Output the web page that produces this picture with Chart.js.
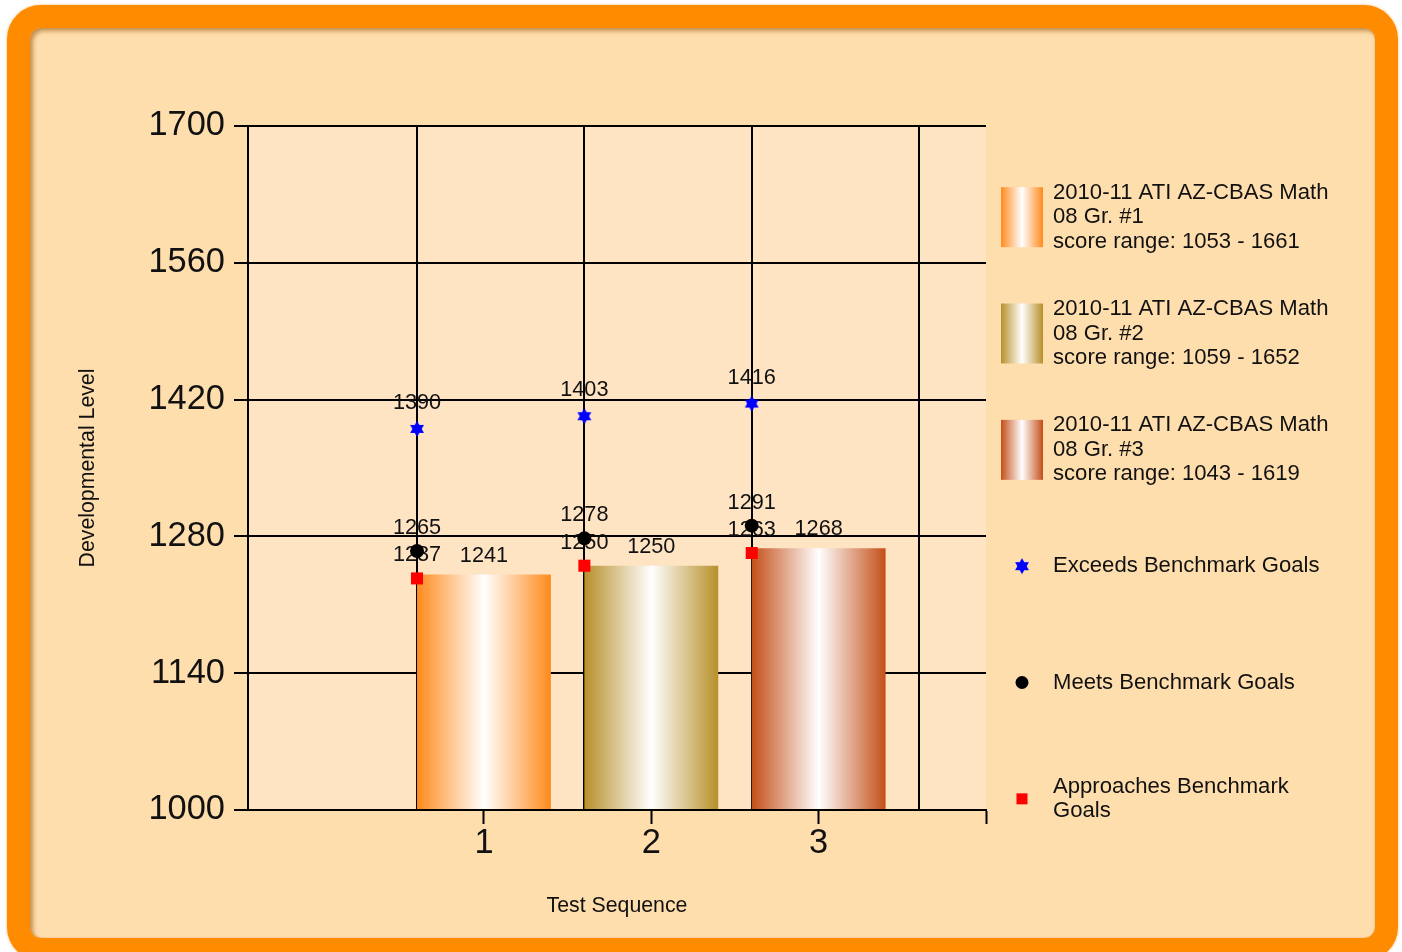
<!DOCTYPE html>
<html>
<head>
<meta charset="utf-8">
<title>Developmental Level by Test Sequence</title>
<script src="https://cdn.jsdelivr.net/npm/chart.js@4.4.1/dist/chart.umd.min.js"></script>
<style>
  html, body { margin: 0; padding: 0; width: 1402px; height: 952px; overflow: hidden; background: #ffffff; }
  #frame {
    position: absolute; left: 7px; top: 5px; width: 1391px; height: 956px;
    box-sizing: border-box; border: 23px solid #FF8C00; border-radius: 34px;
    background: #FFDEAD;
    box-shadow: inset 3px 3px 4px rgba(150, 80, 0, 0.55), inset 0 0 1px rgba(150, 80, 0, 0.7), 0 0 3px rgba(255, 150, 40, 0.6);
  }
  #wrap { position: absolute; left: 0; top: 0; width: 1402px; height: 952px; }
</style>
</head>
<body>
<div id="frame"></div>
<div id="wrap"><canvas id="chart"></canvas></div>
<script>
// ---- data ----
const categories = [1, 2, 3];
const xTickLabels = ['1', '2', '3'];
const testNames = [
  '2010-11 ATI AZ-CBAS Math 08 Gr. #1',
  '2010-11 ATI AZ-CBAS Math 08 Gr. #2',
  '2010-11 ATI AZ-CBAS Math 08 Gr. #3'
];
const scoreRangeMin = [1053, 1059, 1043];
const scoreRangeMax = [1661, 1652, 1619];
const testScores = [1241, 1250, 1268];
const exceedsBenchmark = [1390, 1403, 1416];
const meetsBenchmark = [1265, 1278, 1291];
const approachesBenchmark = [1237, 1250, 1263];
const benchmarkNames = ['Exceeds Benchmark Goals', 'Meets Benchmark Goals', 'Approaches Benchmark Goals'];
const yTickValues = [1000, 1140, 1280, 1420, 1560, 1700];

// ---- axis setup ----
const yMin = 1000, yMax = 1700;
const xMin = -0.41, xMax = 4;
const markerShift = -0.4;              // benchmark markers sit on the left edge of each column
const xMarkTicks = [1, 2, 3, 4];
const xGridTicks = [1, 2, 3, 4].map(v => v + markerShift);

// ---- styles ----
const barPalette = ['#FF8A1C', '#B8902A', '#C44F18'];
const plotFill = '#FFE4C4';
const inkColor = '#111111';

function fontAvailable(name) {
  const g = document.createElement('canvas').getContext('2d');
  const probe = 'Developmental 1700 Goals';
  g.font = '40px monospace';
  const a = g.measureText(probe).width;
  g.font = '40px "' + name + '", monospace';
  return g.measureText(probe).width !== a;
}
const NARROW = fontAvailable('Liberation Sans Narrow');
const FAMILY = NARROW ? '"Liberation Sans Narrow", "Liberation Sans", Arial, sans-serif'
                      : '"Liberation Sans", Arial, sans-serif';
const K = NARROW ? 1 : 0.82;
const fs = px => Math.round(px * K * 10) / 10;

function columnGradient(g, x0, x1, color) {
  const grad = g.createLinearGradient(x0, 0, x1, 0);
  grad.addColorStop(0, color);
  grad.addColorStop(0.5, '#FFFFFF');
  grad.addColorStop(1, color);
  return grad;
}

function makeHexagram(r, color) {
  const c = document.createElement('canvas');
  const s = Math.ceil(r * 2) + 2;
  c.width = c.height = s;
  const g = c.getContext('2d');
  g.fillStyle = color;
  g.translate(s / 2, s / 2);
  [0, Math.PI].forEach(rot => {
    g.beginPath();
    for (let k = 0; k < 3; k++) {
      const a = rot - Math.PI / 2 + k * 2 * Math.PI / 3;
      g.lineTo(r * Math.cos(a), r * Math.sin(a));
    }
    g.closePath();
    g.fill();
  });
  return c;
}
const starImage = makeHexagram(8, '#0000FF');

const BAR_PERCENT = 0.8;

function barDataset(i) {
  return {
    type: 'bar',
    label: testNames[i],
    legendNote: 'score range: ' + scoreRangeMin[i] + ' - ' + scoreRangeMax[i],
    data: [{ x: categories[i], y: testScores[i] }],
    xAxisID: 'x', yAxisID: 'y',
    grouped: false,
    base: yMin,
    barPercentage: BAR_PERCENT,
    categoryPercentage: 1,
    paletteColor: barPalette[i],
    backgroundColor: (c) => {
      const chart = c.chart, xs = chart.scales.x;
      if (!chart.chartArea || !xs) return barPalette[i];
      const unit = xs.getPixelForValue(1) - xs.getPixelForValue(0);
      const mid = xs.getPixelForValue(categories[i]);
      const half = unit * BAR_PERCENT / 2;
      return columnGradient(chart.ctx, mid - half, mid + half, barPalette[i]);
    },
    borderWidth: 0,
    labelGap: 13,
    order: 10
  };
}

function markerDataset(name, values, style, order, gap) {
  return Object.assign({
    type: 'scatter',
    label: name,
    data: categories.map((c, i) => ({ x: c + markerShift, y: values[i] })),
    xAxisID: 'x', yAxisID: 'y',
    borderWidth: 0,
    labelGap: gap,
    order: order
  }, style);
}

const datasets = [
  barDataset(0), barDataset(1), barDataset(2),
  markerDataset(benchmarkNames[0], exceedsBenchmark,
    { pointStyle: starImage, pointRadius: 8, backgroundColor: '#0000FF', borderColor: '#0000FF' }, 1, 20),
  markerDataset(benchmarkNames[1], meetsBenchmark,
    { pointStyle: 'circle', pointRadius: 7, backgroundColor: '#000000', borderColor: '#000000' }, 2, 17),
  markerDataset(benchmarkNames[2], approachesBenchmark,
    { pointStyle: 'rect', pointRadius: 8.5, backgroundColor: '#FF0000', borderColor: '#FF0000' }, 3, 17)
];

// plot area fill
const plotBackground = {
  id: 'plotBackground',
  beforeDraw(chart) {
    const a = chart.chartArea, g = chart.ctx;
    g.save();
    g.fillStyle = plotFill;
    g.fillRect(a.left, a.top, a.right - a.left, a.bottom - a.top);
    g.restore();
  }
};

// value text above every column and marker
const valueLabels = {
  id: 'valueLabels',
  afterDatasetDraw(chart, args) {
    const ds = chart.data.datasets[args.index];
    const g = chart.ctx;
    g.save();
    g.font = fs(26.5) + 'px ' + FAMILY;
    g.fillStyle = inkColor;
    g.textAlign = 'center';
    g.textBaseline = 'alphabetic';
    args.meta.data.forEach((el, i) => {
      const v = ds.data[i].y;
      g.fillText(String(v), el.x, el.y - ds.labelGap);
    });
    g.restore();
  }
};

function wrapText(g, text, maxWidth) {
  const words = text.split(' ');
  const lines = [];
  let line = '';
  words.forEach(w => {
    const trial = line ? line + ' ' + w : w;
    if (line && g.measureText(trial).width > maxWidth) { lines.push(line); line = w; }
    else line = trial;
  });
  if (line) lines.push(line);
  return lines;
}

// legend column on the right
const sideLegend = {
  id: 'sideLegend',
  afterDraw(chart, args, o) {
    const g = chart.ctx;
    const list = chart.data.datasets;
    const slot = (o.bottom - o.top) / list.length;
    g.save();
    g.font = fs(27) + 'px ' + FAMILY;
    g.fillStyle = inkColor;
    g.textAlign = 'left';
    g.textBaseline = 'middle';
    list.forEach((ds, i) => {
      const cy = o.top + slot * (i + 0.5);
      const mx = o.markerX;
      if (ds.type === 'bar') {
        const x0 = mx - o.swatchW / 2;
        g.fillStyle = columnGradient(g, x0, x0 + o.swatchW, ds.paletteColor);
        g.fillRect(x0, cy - o.swatchH / 2, o.swatchW, o.swatchH);
      } else if (ds.pointStyle === 'circle') {
        g.fillStyle = ds.backgroundColor;
        g.beginPath(); g.arc(mx, cy, 6.5, 0, Math.PI * 2); g.fill();
      } else if (ds.pointStyle === 'rect') {
        g.fillStyle = ds.backgroundColor;
        g.fillRect(mx - 5.5, cy - 5.5, 11, 11);
      } else {
        g.drawImage(ds.pointStyle, mx - ds.pointStyle.width / 2, cy - ds.pointStyle.height / 2);
      }
      let lines = wrapText(g, ds.label, o.maxWidth);
      if (ds.legendNote) lines = lines.concat([ds.legendNote]);
      g.fillStyle = inkColor;
      lines.forEach((ln, k) => {
        g.fillText(ln, o.textX, cy + (k - (lines.length - 1) / 2) * o.lineHeight);
      });
    });
    g.restore();
  }
};

const lineColor = '#000000';

new Chart(document.getElementById('chart'), {
  type: 'bar',
  data: { datasets },
  options: {
    responsive: true,
    maintainAspectRatio: false,
    animation: false,
    events: [],
    layout: { padding: { left: 60, right: 416, top: 126, bottom: 0 } },
    plugins: {
      legend: { display: false },
      tooltip: { enabled: false },
      sideLegend: {
        top: 159, bottom: 857, markerX: 1022, swatchW: 42, swatchH: 60,
        textX: 1053, lineHeight: 24.5, maxWidth: 292
      }
    },
    scales: {
      x: {
        type: 'linear', position: 'bottom', min: xMin, max: xMax,
        offset: false, weight: 0,
        afterBuildTicks: s => { s.ticks = xMarkTicks.map(v => ({ value: v })); },
        afterFit: s => { s.height = 142; },
        ticks: {
          autoSkip: false, maxRotation: 0, padding: -1, color: inkColor,
          font: { family: FAMILY, size: fs(42) },
          callback: v => { const i = categories.indexOf(v); return i >= 0 ? xTickLabels[i] : ''; }
        },
        grid: { drawOnChartArea: false, offset: false, tickLength: 14, tickWidth: 2, tickColor: lineColor },
        border: { display: true, color: lineColor, width: 2 },
        title: {
          display: true, text: 'Test Sequence', color: inkColor,
          font: { family: FAMILY, size: fs(26) }, padding: { top: 0, bottom: 33 }
        }
      },
      xGrid: {
        type: 'linear', position: 'bottom', min: xMin, max: xMax,
        offset: false, weight: 1,
        afterBuildTicks: s => { s.ticks = xGridTicks.map(v => ({ value: v })); },
        ticks: { display: false },
        grid: { drawTicks: false, offset: false, color: lineColor, lineWidth: 2 },
        border: { display: false }
      },
      y: {
        type: 'linear', position: 'left', min: yMin, max: yMax, beginAtZero: false,
        afterBuildTicks: s => { s.ticks = yTickValues.map(v => ({ value: v })); },
        afterFit: s => { s.width = 188; },
        ticks: {
          padding: 9, color: inkColor, font: { family: FAMILY, size: fs(42) },
          callback: v => String(v)
        },
        grid: { color: lineColor, lineWidth: 2, tickLength: 14 },
        border: { color: lineColor, width: 2 },
        title: {
          display: true, text: 'Developmental Level', color: inkColor,
          font: { family: FAMILY, size: fs(26) }, padding: { top: 15, bottom: 0 }
        }
      }
    }
  },
  plugins: [plotBackground, valueLabels, sideLegend]
});
</script>
</body>
</html>
